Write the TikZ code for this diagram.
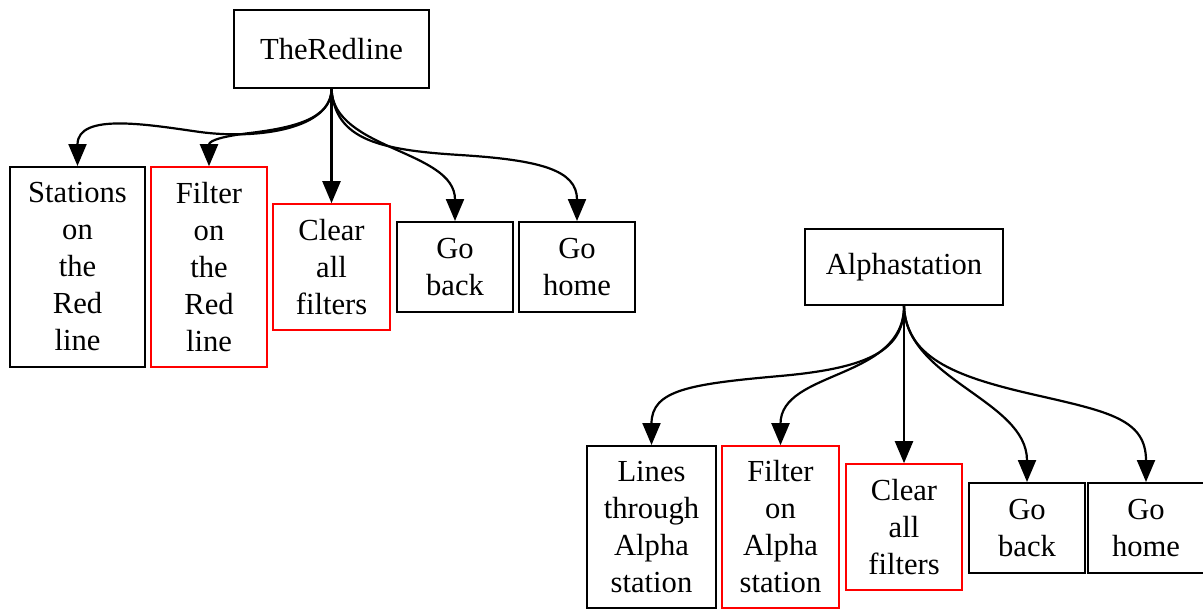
\documentclass[tikz,border=0pt]{standalone}
\usepackage{fontspec}
\setmainfont{Liberation Serif}
\usetikzlibrary{arrows.meta}
\tikzset{
	box/.style={draw, line width=1pt, rectangle, align=center, inner sep=0pt,
		font=\fontsize{15.3}{18.5}\selectfont, minimum width=58pt, minimum height=45pt},
	redbox/.style={box, draw=red, line width=0.8pt},
	edge/.style={line width=1.1pt, -{Triangle[length=11pt,width=9pt]}}
}

\begin{document}
\begin{tikzpicture}[x=0.5pt, y=-0.5pt]
			%%%%% FRAME %%%%%
			\useasboundingbox (0, 0) rectangle (1203, 611);
			
			%%%%% RED LINE %%%%%
			\node[box, minimum width=97.5pt, minimum height=39pt] (redline) at (331.5, 49) {TheRedline};
			
			\node[box, minimum width=67.5pt, minimum height=100pt] (stations) at (77.5, 267) {Stations\\on\\the\\Red\\line};
			\node[redbox, minimum height=100pt] (filterred) at (209, 267) {Filter\\on\\the\\Red\\line};
			\node[redbox, minimum width=58.5pt, minimum height=63pt] (clearred) at (331.5, 267) {Clear\\all\\filters};
			\node[box] (backred) at (455, 267) {Go\\back};
			\node[box] (homered) at (577, 267) {Go\\home};
			
			\draw[edge] (redline.south) .. controls (331.5, 128) and (260, 140) .. (200, 132) .. controls (150, 125) and (77.5, 112) .. (stations.north);
			\draw[edge] (redline.south) .. controls (331.5, 120) and (290, 128) .. (250, 133) .. controls (225, 136) and (209, 140) .. (filterred.north);
			\draw[edge] (redline.south) -- (clearred.north);
			\draw[edge] (redline.south) .. controls (333, 150) and (455, 150) .. (backred.north);
			\draw[edge] (redline.south) .. controls (335, 140) and (380, 150) .. (460, 155) .. controls (540, 160) and (577, 170) .. (homered.north);
			
			%%%%% ALPHA STATION %%%%%
			\node[box, minimum width=99pt, minimum height=38pt] (alpha) at (904, 267) {Alphastation};
			
			\node[box, minimum width=64.5pt, minimum height=81pt] (lines) at (651.5, 527) {Lines\\through\\Alpha\\station};
			\node[redbox, minimum width=58.5pt, minimum height=81pt] (filteralpha) at (780.5, 527) {Filter\\on\\Alpha\\station};
			\node[redbox, minimum height=63pt] (clearalpha) at (904, 527) {Clear\\all\\filters};
			\node[box] (backalpha) at (1027, 528) {Go\\back};
			\node[box] (homealpha) at (1146, 528) {Go\\home};
			
			\draw[edge] (alpha.south) .. controls (904, 350) and (870, 368) .. (780, 376) .. controls (690, 384) and (651.5, 390) .. (lines.north);
			\draw[edge] (alpha.south) .. controls (904, 380) and (780.5, 370) .. (filteralpha.north);
			\draw[edge] (alpha.south) -- (clearalpha.north);
			\draw[edge] (alpha.south) .. controls (906, 380) and (1027, 400) .. (backalpha.north);
			\draw[edge] (alpha.south) .. controls (906, 360) and (960, 378) .. (1040, 396) .. controls (1110, 412) and (1146, 420) .. (homealpha.north);
\end{tikzpicture}
\end{document}
